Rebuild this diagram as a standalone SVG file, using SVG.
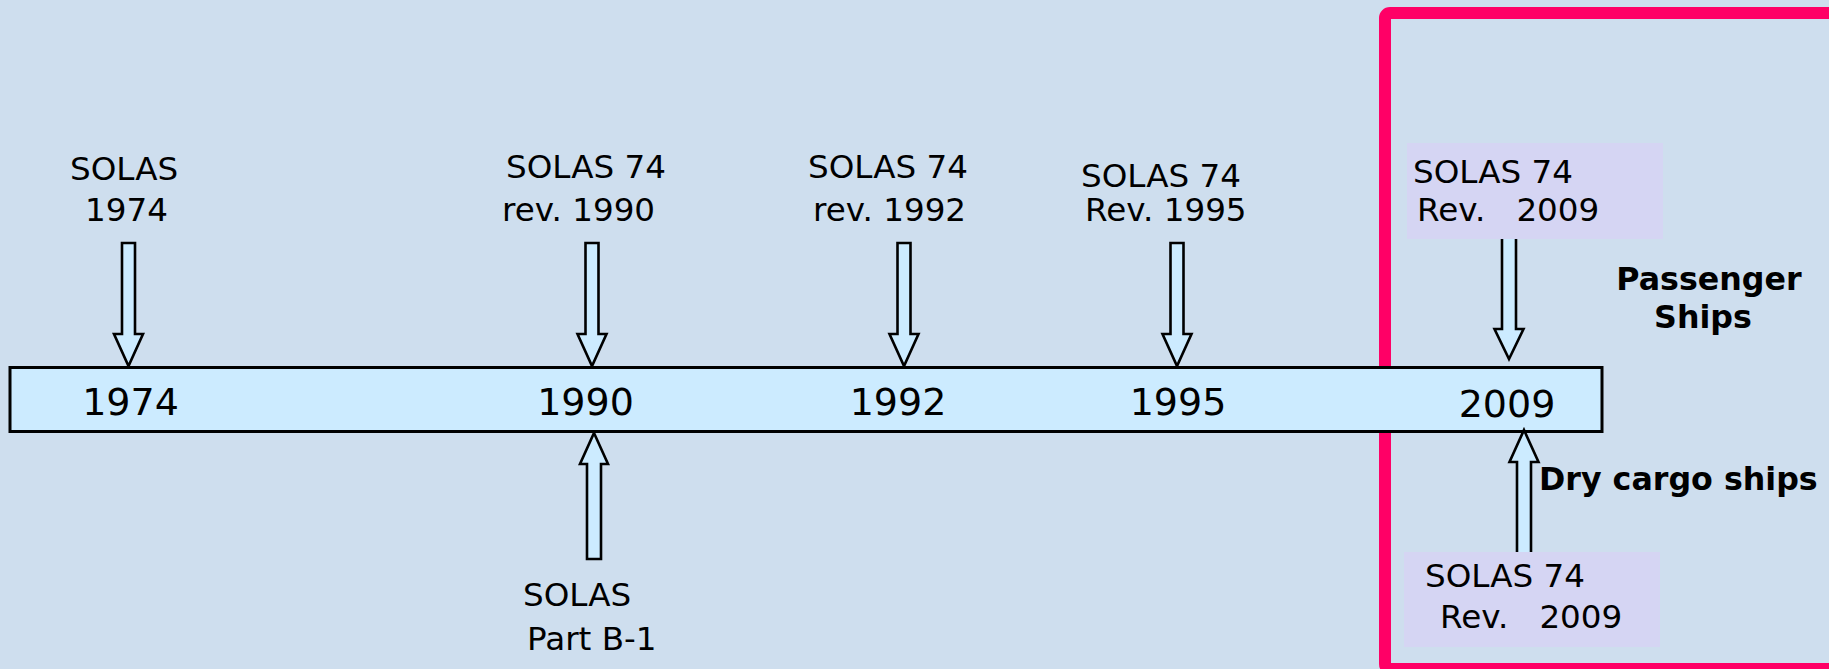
<svg xmlns="http://www.w3.org/2000/svg" width="1829" height="669" viewBox="0 0 1829 669">
  <style>
    .lbl { font-family: "DejaVu Sans", Verdana, sans-serif; font-size: 32.6px; fill: #000; white-space: pre; }
    .year { font-family: "DejaVu Sans", Verdana, sans-serif; font-size: 38px; fill: #000; text-anchor: middle; }
    .bold { font-family: "DejaVu Sans", Verdana, sans-serif; font-size: 31.7px; font-weight: bold; fill: #000; }
    .arrow { fill: #CCEBFF; stroke: #000; stroke-width: 2.6; stroke-linejoin: miter; }
    .note { fill: #D5D5F3; }
  </style>
  <defs>
    <!-- block arrow pointing down, tip at (0,0) -->
    <path id="downArrow" d="M -6.5 -123 L 6.5 -123 L 6.5 -32 L 14.5 -32 L 0 0 L -14.5 -32 L -6.5 -32 Z"/>
  </defs>

  <!-- background -->
  <rect x="0" y="0" width="1829" height="669" fill="#CEDEEE"/>

  <!-- highlight frame around 2009 -->
  <g id="frame-2009">
    <rect x="1385" y="13" width="450" height="656" rx="5" fill="none" stroke="#FF0066" stroke-width="12"/>
  </g>

  <!-- timeline bar -->
  <g id="timeline">
    <rect x="10" y="367.5" width="1592" height="64" fill="#CCEBFF" stroke="#000" stroke-width="3"/>
    <text class="year" x="130.5" y="415">1974</text>
    <text class="year" x="585.5" y="415">1990</text>
    <text class="year" x="898" y="414.5">1992</text>
    <text class="year" x="1178" y="415">1995</text>
    <text class="year" x="1507" y="417">2009</text>
  </g>

  <!-- connectors -->
  <g id="connectors">
    <use href="#downArrow" class="arrow" transform="translate(128.5,366)"/>
    <use href="#downArrow" class="arrow" transform="translate(592,366)"/>
    <use href="#downArrow" class="arrow" transform="translate(904,366)"/>
    <use href="#downArrow" class="arrow" transform="translate(1177,366)"/>
    <path class="arrow" d="M 1502 235 L 1516 235 L 1516 329 L 1523.5 329 L 1509 359 L 1494.5 329 L 1502 329 Z"/>
    <path class="arrow" d="M 594 433 L 608 464 L 601 464 L 601 559 L 587 559 L 587 464 L 580 464 Z"/>
    <path class="arrow" d="M 1524 430 L 1538.5 462 L 1531 462 L 1531 556 L 1517 556 L 1517 462 L 1509.5 462 Z"/>
  </g>

  <g id="node-1974">
    <text class="lbl" x="70" y="180">SOLAS</text>
    <text class="lbl" x="85" y="221">1974</text>
  </g>

  <g id="node-1990">
    <text class="lbl" x="506" y="178">SOLAS 74</text>
    <text class="lbl" x="502" y="221">rev. 1990</text>
  </g>

  <g id="node-partb1">
    <text class="lbl" x="523" y="606">SOLAS</text>
    <text class="lbl" x="527" y="650">Part B-1</text>
  </g>

  <g id="node-1992">
    <text class="lbl" x="808" y="178">SOLAS 74</text>
    <text class="lbl" x="813" y="221">rev. 1992</text>
  </g>

  <g id="node-1995">
    <text class="lbl" x="1081" y="187">SOLAS 74</text>
    <text class="lbl" x="1085" y="221">Rev. 1995</text>
  </g>

  <g id="node-2009-passenger">
    <rect class="note" x="1407" y="143" width="256" height="96"/>
    <text class="lbl" x="1413" y="183">SOLAS 74</text>
    <text class="lbl" x="1417" y="221" xml:space="preserve">Rev.   2009</text>
  </g>

  <g id="node-2009-cargo">
    <rect class="note" x="1404" y="552" width="256" height="95"/>
    <text class="lbl" x="1425" y="587">SOLAS 74</text>
    <text class="lbl" x="1440" y="628" xml:space="preserve">Rev.   2009</text>
  </g>

  <g id="caption-passenger">
    <text class="bold" x="1709" y="290" text-anchor="middle">Passenger</text>
    <text class="bold" x="1703" y="328" text-anchor="middle">Ships</text>
  </g>

  <g id="caption-cargo">
    <text class="bold" x="1539" y="490">Dry cargo ships</text>
  </g>
</svg>
